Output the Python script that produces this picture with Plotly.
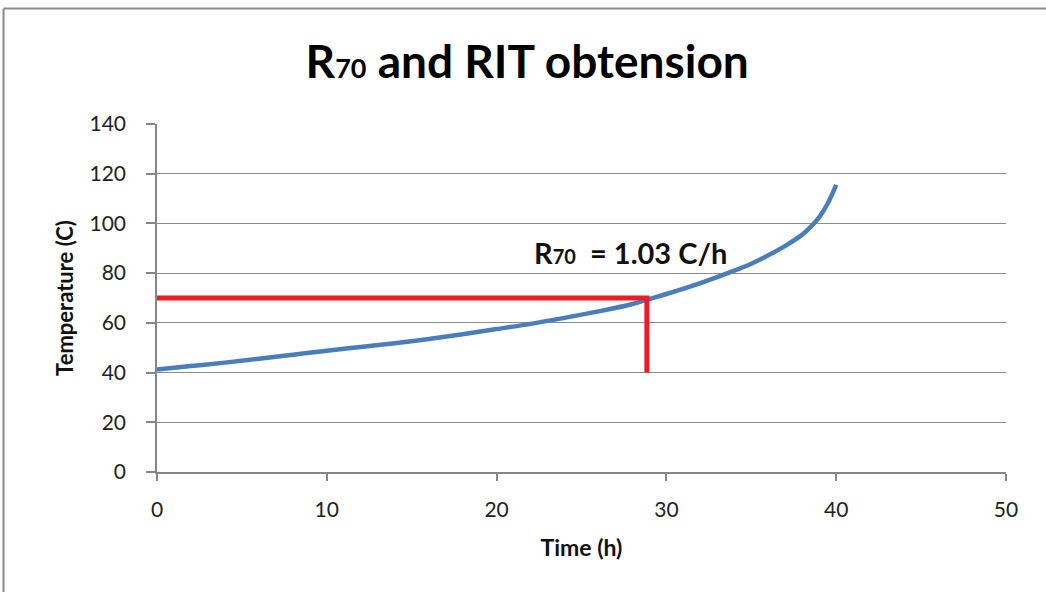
import plotly.graph_objects as go

time_h = [0, 2, 4, 6, 8, 10, 12, 14, 16, 18, 20, 22, 24, 26, 28, 29, 30, 32, 34, 35, 36, 37, 38, 38.5, 39, 39.5, 40]
temp_c = [41.2, 42.6, 44.0, 45.6, 47.2, 48.8, 50.3, 51.8, 53.5, 55.4, 57.5, 59.6, 62.0, 64.6, 67.6, 69.6, 71.6, 76.0, 81.0, 83.8, 87.2, 91.0, 95.5, 98.6, 102.5, 108.0, 115.5]

r70_x = [0, 28.85, 28.85]
r70_y = [70, 70, 40]

x_ticks = [0, 10, 20, 30, 40, 50]
y_ticks = [0, 20, 40, 60, 80, 100, 120, 140]

FONT = "Lato"

fig = go.Figure()
fig.add_trace(go.Scatter(x=time_h, y=temp_c, mode="lines",
                         line=dict(color="#4A7EBB", width=4.5, shape="spline"),
                         showlegend=False, hoverinfo="skip"))
fig.add_trace(go.Scatter(x=r70_x, y=r70_y, mode="lines",
                         line=dict(color="#ED1C24", width=5),
                         showlegend=False, hoverinfo="skip"))

fig.add_annotation(x=27.86, y=88.3, xref="x", yref="y",
                   text="<b>R<span style='font-size:20px'>70</span>  = 1.03 C/h</b>", showarrow=False,
                   font=dict(family=FONT, size=29, color="#111"))

# outer chart frame
fig.add_shape(type="line", xref="paper", yref="paper",
              x0=-0.1808, x1=1.06, y0=1.3318, y1=1.3318,
              line=dict(color="#8a8a8a", width=2))
fig.add_shape(type="line", xref="paper", yref="paper",
              x0=-0.1808, x1=-0.1808, y0=1.3318, y1=-0.36,
              line=dict(color="#8a8a8a", width=2))

fig.update_layout(
    width=1046, height=592,
    margin=dict(l=157, r=40, t=124, b=120),
    paper_bgcolor="white", plot_bgcolor="white",
    title=dict(text="<b>R<span style='font-size:27px'>70</span> and RIT obtension</b>",
               x=0.504, xanchor="center", y=0.895, yanchor="middle",
               font=dict(family=FONT, size=46, color="#000")),
    font=dict(family=FONT, color="#222"),
)
fig.update_xaxes(range=[0, 50], tickvals=x_ticks, showgrid=False, zeroline=False,
                 showline=True, linecolor="#868686", linewidth=1.5,
                 ticks="outside", ticklen=7, tickcolor="#868686", tickwidth=1.5,
                 tickfont=dict(family=FONT, size=21, color="#222"), ticklabelstandoff=11,
                 title=dict(text="<b>Time (h)</b>", font=dict(family=FONT, size=23, color="#111"), standoff=20))
fig.update_yaxes(range=[0, 140], tickvals=y_ticks, showgrid=True, gridcolor="#8c8c8c", gridwidth=1,
                 zeroline=False, showline=True, linecolor="#868686", linewidth=1.5,
                 ticks="outside", ticklen=9, tickcolor="#868686", tickwidth=1.5,
                 tickfont=dict(family=FONT, size=21, color="#222"), ticklabelstandoff=16,
                 title=dict(text="<b>Temperature (C)</b>", font=dict(family=FONT, size=22, color="#111"), standoff=10))

fig.write_html("out.html", post_script="document.body.style.margin='0';",
               config={"displayModeBar": False})
